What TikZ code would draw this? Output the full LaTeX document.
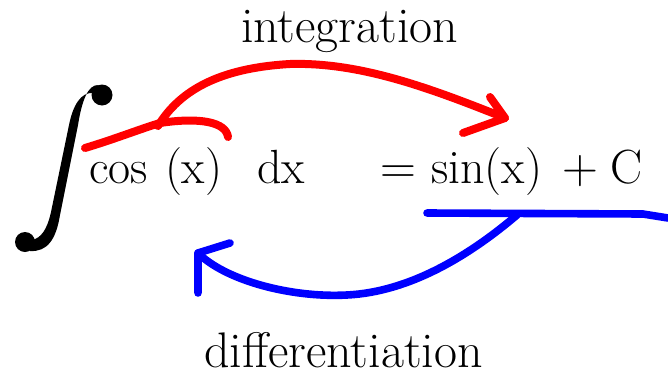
\documentclass[tikz,border=0pt]{standalone}
\begin{document}
\begin{tikzpicture}[x=0.5pt,y=-0.5pt,
  txt/.style={anchor=base west,inner sep=0pt,outer sep=0pt,font=\fontsize{24}{29}\selectfont},
  lab/.style={anchor=base west,inner sep=0pt,outer sep=0pt,font=\fontsize{25}{30}\selectfont},
  redpen/.style={draw=red,line width=4pt,line cap=round,line join=round},
  bluepen/.style={draw=blue,line width=3.8pt,line cap=round,line join=round}]
\useasboundingbox[fill=white] (0,0) rectangle (668,375);
% integral sign
\fill[black] (93,93) .. controls (81,92) and (73,105) .. (69,125) -- (51,212)
  .. controls (47,230) and (41,238) .. (32,240) -- (30,251)
  .. controls (47,252) and (56,240) .. (60,215) -- (78,125)
  .. controls (82,100) and (88,85) .. (98,85) -- cycle;
\fill[black] (102,95) circle[radius=10.5];
\fill[black] (25,242) circle[radius=10];
% texts
\node[lab] (integ) at (241,42) {integration};
\node[lab] (diff) at (204,367) {differentiation};
\node[txt] (cosx) at (89,183) {cos};
\node[txt] (px) at (165,183) {(x)};
\node[txt] (dx) at (257,183) {dx};
\node[txt] (eq) at (380,183) {$=$};
\node[txt] (sinx) at (431,183) {sin(x)};
\node[txt] (plus) at (562,183) {$+$};
\node[txt] (cc) at (610,183) {C};
% red strokes
\coordinate (ra) at (85,148);
\coordinate (rb) at (160,123);
\coordinate (rtip) at (505,118);
\draw[redpen] (ra) .. controls (115,139) and (140,129) .. (rb)
  .. controls (200,117) and (226,122) .. (228,137);
\draw[redpen] (158,126) .. controls (180,90) and (220,68) .. (290,64)
  .. controls (360,62) and (430,88) .. (rtip);
\draw[redpen] (490,97) -- (rtip) -- (463,133);
% blue strokes
\coordinate (ba) at (427,213);
\coordinate (bj) at (517,215);
\coordinate (btip) at (198,253);
\draw[bluepen] (ba) -- (643,214) -- (668,218);
\draw[bluepen] (bj) .. controls (470,255) and (410,292) .. (347,295)
  .. controls (290,298) and (225,280) .. (btip);
\draw[bluepen] (230,243) -- (btip) -- (198,293);
\end{tikzpicture}
\end{document}
